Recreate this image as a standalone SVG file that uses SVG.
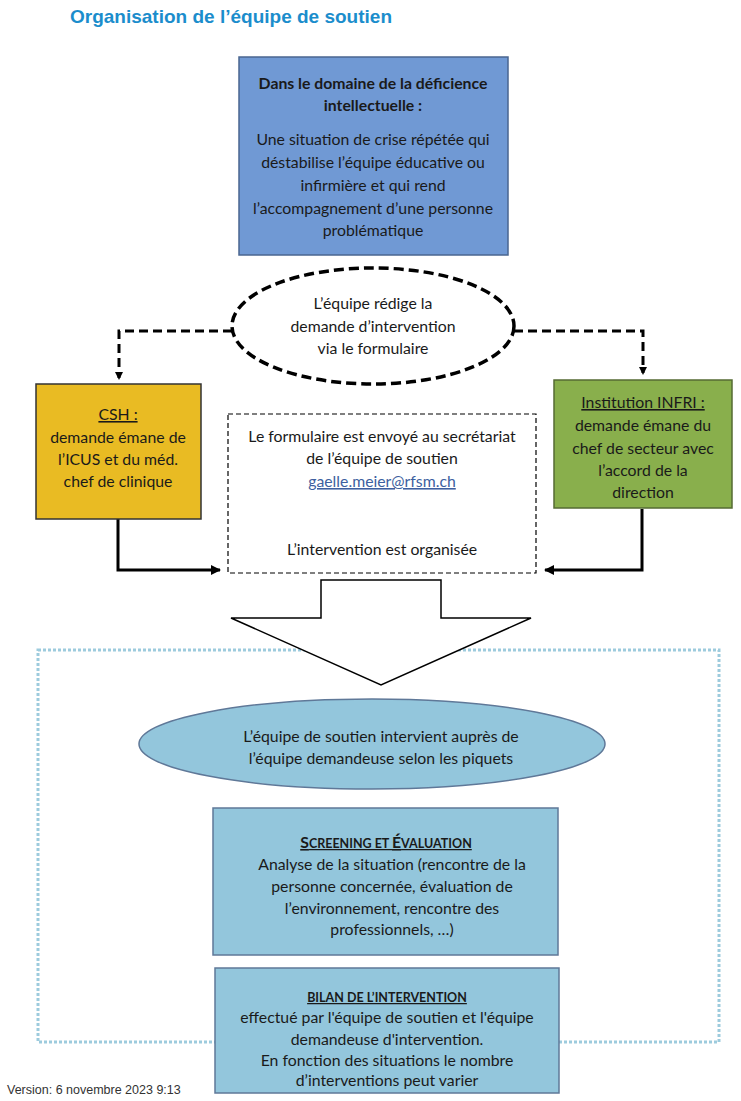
<svg xmlns="http://www.w3.org/2000/svg" width="741" height="1101" viewBox="0 0 741 1101">
<style>
.t{font-family:Lato,"Liberation Sans",sans-serif;font-size:15.8px;fill:#1a1a1a;text-anchor:middle}
.b{font-weight:bold}
.u{text-decoration:underline}
.dash{fill:none;stroke:#000;stroke-width:3;stroke-dasharray:9,5}
.solid{fill:none;stroke:#000;stroke-width:3}
.lb{fill:#93C6DC;stroke:#5F7898;stroke-width:1.5}
</style>
<defs>
<marker id="ah" markerWidth="8" markerHeight="8" refX="6" refY="4" orient="auto" markerUnits="userSpaceOnUse" viewBox="0 0 8 8">
<path d="M0,0 L8,4 L0,8 z" fill="#000"/>
</marker>
<marker id="ah2" markerWidth="10" markerHeight="10" refX="9" refY="5" orient="auto" markerUnits="userSpaceOnUse" viewBox="0 0 10 10">
<path d="M0,0 L10,5 L0,10 z" fill="#000"/>
</marker>
</defs>
<rect width="741" height="1101" fill="#fff"/>
<text x="70" y="23" font-family="'Liberation Sans',Arial,sans-serif" font-size="19" font-weight="bold" fill="#1B8DCC">Organisation de l’équipe de soutien</text>

<g id="container">
<rect x="38" y="650" width="681" height="392" fill="none" stroke="#9DCBDD" stroke-width="3" stroke-dasharray="3,2"/>
</g>

<g id="connectors">
<path class="dash" d="M232,331 H119 V378" marker-end="url(#ah)"/>
<path class="dash" d="M514,331 H643 V373" marker-end="url(#ah)"/>
<path class="solid" d="M118,519 V570 H220" marker-end="url(#ah2)"/>
<path class="solid" d="M642,509 V570 H545" marker-end="url(#ah2)"/>
</g>

<g id="top-box">
<rect x="239" y="57" width="269" height="198" fill="#7099D4" stroke="#4A6690" stroke-width="1.5"/>
<text class="t b" x="373" y="89">Dans le domaine de la déficience</text>
<text class="t b" x="373" y="111">intellectuelle :</text>
<text class="t" x="373" y="145">Une situation de crise répétée qui</text>
<text class="t" x="373" y="168">déstabilise l’équipe éducative ou</text>
<text class="t" x="373" y="191">infirmière et qui rend</text>
<text class="t" x="373" y="214">l’accompagnement d’une personne</text>
<text class="t" x="373" y="236">problématique</text>
</g>

<g id="redige">
<ellipse cx="373" cy="326" rx="141" ry="58" fill="#fff" stroke="#000" stroke-width="3.5" stroke-dasharray="10,5"/>
<text class="t" x="373" y="309">L’équipe rédige la</text>
<text class="t" x="373" y="332">demande d’intervention</text>
<text class="t" x="373" y="354">via le formulaire</text>
</g>

<g id="csh">
<rect x="36" y="384" width="165" height="135" fill="#E9BB23" stroke="#333" stroke-width="1.5"/>
<text class="t u" x="118" y="420">CSH :</text>
<text class="t" x="118" y="443">demande émane de</text>
<text class="t" x="118" y="465">l’ICUS et du méd.</text>
<text class="t" x="118" y="487">chef de clinique</text>
</g>

<g id="infri">
<rect x="554" y="380" width="178" height="128" fill="#89AF4C" stroke="#556B33" stroke-width="1.5"/>
<text class="t u" x="643" y="408">Institution INFRI :</text>
<text class="t" x="643" y="431">demande émane du</text>
<text class="t" x="643" y="454">chef de secteur avec</text>
<text class="t" x="643" y="476">l’accord de la</text>
<text class="t" x="643" y="498">direction</text>
</g>

<g id="formulaire">
<rect x="228" y="414" width="308" height="159" fill="#fff" stroke="#000" stroke-width="1.2" stroke-dasharray="5,3"/>
<text class="t" x="382" y="442">Le formulaire est envoyé au secrétariat</text>
<text class="t" x="382" y="464">de l’équipe de soutien</text>
<text class="t u" x="382" y="487" style="fill:#3D5FA0">gaelle.meier@rfsm.ch</text>
<text class="t" x="382" y="555">L’intervention est organisée</text>
</g>

<g id="big-arrow">
<path d="M321,580 H441 V618 H531 L381,685 L231,618 H321 Z" fill="#fff" stroke="#000" stroke-width="1.5"/>
</g>

<g id="intervient">
<ellipse class="lb" cx="372" cy="744" rx="233" ry="45"/>
<text class="t" x="381" y="742">L’équipe de soutien intervient auprès de</text>
<text class="t" x="381" y="764">l’équipe demandeuse selon les piquets</text>
</g>

<g id="screening">
<rect class="lb" x="213" y="808" width="345" height="147"/>
<text class="t b u" x="386" y="848"><tspan>S</tspan><tspan font-size="12.5">CREENING ET </tspan><tspan>É</tspan><tspan font-size="12.5">VALUATION</tspan></text>
<text class="t" x="392" y="870">Analyse de la situation (rencontre de la</text>
<text class="t" x="392" y="892">personne concernée, évaluation de</text>
<text class="t" x="392" y="914">l’environnement, rencontre des</text>
<text class="t" x="392" y="935">professionnels, …)</text>
</g>

<g id="bilan">
<rect class="lb" x="215" y="968" width="344" height="125"/>
<text class="t b u" x="387" y="1002" style="font-size:12.5px">BILAN DE L’INTERVENTION</text>
<text class="t" x="387" y="1023">effectué par l'équipe de soutien et l'équipe</text>
<text class="t" x="387" y="1045">demandeuse d'intervention.</text>
<text class="t" x="387" y="1066">En fonction des situations le nombre</text>
<text class="t" x="387" y="1086">d’interventions peut varier</text>
</g>

<text x="7" y="1094" font-family="'Liberation Sans',Arial,sans-serif" font-size="12.5" fill="#333">Version: 6 novembre 2023 9:13</text>
</svg>
